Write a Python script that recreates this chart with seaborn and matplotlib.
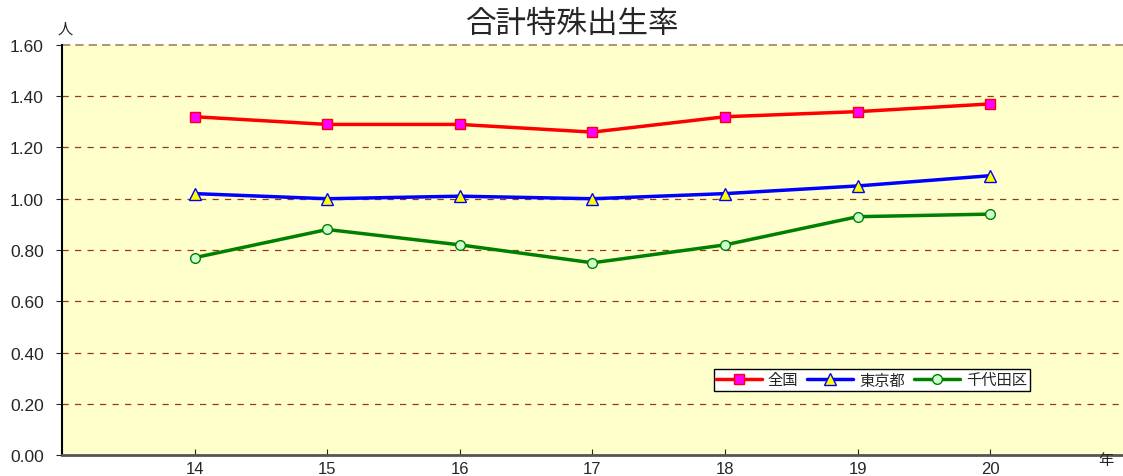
import numpy as np
import pandas as pd
import matplotlib
matplotlib.use("Agg")
import matplotlib.pyplot as plt
import seaborn as sns

years = [14, 15, 16, 17, 18, 19, 20]
zenkoku = [1.32, 1.29, 1.29, 1.26, 1.32, 1.34, 1.37]
tokyo = [1.02, 1.00, 1.01, 1.00, 1.02, 1.05, 1.09]
chiyoda = [0.77, 0.88, 0.82, 0.75, 0.82, 0.93, 0.94]
series_names = ["全国", "東京都", "千代田区"]
y_ticks = [0.0, 0.2, 0.4, 0.6, 0.8, 1.0, 1.2, 1.4, 1.6]

df = pd.DataFrame({"年": years * 3,
                   "値": zenkoku + tokyo + chiyoda,
                   "地域": [n for n in series_names for _ in years]})

sns.set_style("ticks")
plt.rcParams["font.family"] = ["Noto Sans CJK JP", "DejaVu Sans"]
num_font = ["Liberation Sans", "DejaVu Sans"]

fig = plt.figure(figsize=(11.23, 4.77), dpi=100)
ax = fig.add_axes([0.0552, 0.044, 0.9448, 0.8596])
ax.set_facecolor("#FFFFCC")

styles = {
    "全国": dict(color="red", marker="s", mfc="#FF00FF", mec="red", ms=7),
    "東京都": dict(color="blue", marker="^", mfc="yellow", mec="blue", ms=8),
    "千代田区": dict(color="green", marker="o", mfc="#CCFFCC", mec="green", ms=7),
}
for name in series_names:
    st = styles[name]
    sub = df[df["地域"] == name]
    sns.lineplot(data=sub, x="年", y="値", ax=ax, color=st["color"], lw=2.5,
                 marker=st["marker"], markerfacecolor=st["mfc"],
                 markeredgecolor=st["mec"], markersize=st["ms"],
                 markeredgewidth=1, label=name, zorder=3)

ax.set_xlim(13, 21)
ax.set_ylim(0, 1.6)
ax.set_xticks(years)
ax.set_xticklabels([str(y) for y in years], family=num_font)
ax.set_yticks(y_ticks)
ax.set_yticklabels([f"{v:.2f}" for v in y_ticks], family=num_font)
for v in y_ticks[1:-1]:
    ax.axhline(v, color="#9A3A12", lw=0.9, ls=(0, (5, 5)), zorder=1)
ax.axhline(1.6, color="#A08070", lw=1.2, ls=(0, (5, 3)), zorder=1, clip_on=False)

ax.set_xlabel("")
ax.set_ylabel("")
for s in ["top", "right"]:
    ax.spines[s].set_visible(False)
ax.spines["left"].set_color("black")
ax.spines["left"].set_linewidth(1.5)
ax.spines["bottom"].set_color("#555555")
ax.spines["bottom"].set_linewidth(2)
ax.tick_params(axis="y", direction="out", length=4, labelsize=12.5, pad=9)
ax.tick_params(axis="x", direction="in", length=4, labelsize=12, pad=4)

fig.text(0.51, 0.948, "合計特殊出生率", fontsize=22, ha="center", va="center")
fig.text(0.058, 0.93, "人", fontsize=11, ha="center")
fig.text(0.985, 0.025, "年", fontsize=11, ha="center")

leg = ax.legend(loc="center", bbox_to_anchor=(0.763, 0.183), ncol=3,
                frameon=True, fancybox=False, fontsize=11, handlelength=3.0,
                borderpad=0.15, columnspacing=0.6, handletextpad=0.4)
leg.get_frame().set_edgecolor("black")
leg.get_frame().set_facecolor("white")
leg.get_frame().set_alpha(1)

fig.savefig("out.png", dpi=100)
